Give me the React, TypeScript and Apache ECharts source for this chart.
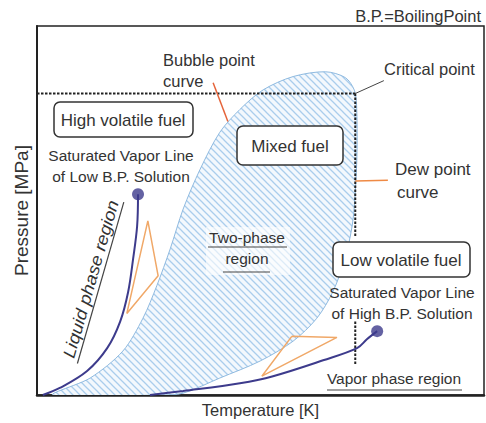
import React, { useEffect, useRef } from "react";
import * as echarts from "echarts";

// ---- Data (normalised axes: temperature 0–100, pressure 0–100) ----
const bubblePointCurve: [number, number][] = [
  [3.6, 0], [11.9, 4.6], [19.2, 11.9], [23.7, 20.8], [26.8, 29.6], [29.8, 39.6],
  [32.7, 50.4], [36.5, 61.2], [40.9, 71.2], [45.4, 77.4], [50.6, 82.7], [57.3, 86.3],
  [64.5, 87.6], [69.0, 86.0], [71.0, 82.6],
];
const dewPointCurve: [number, number][] = [
  [71.5, 78.5], [71.6, 66.0], [71.1, 53.1], [70.5, 45.8], [68.9, 36.9], [66.2, 28.0],
  [62.6, 20.8], [57.3, 14.6], [49.9, 9.2], [40.9, 4.6], [32.7, 0.5], [27.5, 0],
];
const lowBpVaporLine: [number, number][] = [
  [1.3, 0], [5.1, 1.9], [11.2, 6.5], [15.7, 12.7], [18.6, 19.9], [20.4, 28.0], [21.5, 36.9], [22.4, 45.8], [22.6, 54.4],
];
const highBpVaporLine: [number, number][] = [
  [25.3, 0], [32.7, 1.1], [45.4, 3.2], [52.8, 5.1], [64.0, 9.4], [71.6, 12.7], [73.8, 15.1], [76.1, 17.3],
];
const criticalPoint: [number, number] = [71.2, 81.7];
const criticalPressureLine: [number, number][] = [[0, 81.7], criticalPoint];
const criticalTempUpper: [number, number][] = [criticalPoint, [71.2, 42.9]];
const criticalTempLower: [number, number][] = [[71.2, 19.9], [71.2, 8.1]];
const leftTriangle: [number, number][] = [[24.8, 47.2], [27.1, 32.3], [20.1, 22.1], [24.8, 47.2]];
const rightTriangle: [number, number][] = [[57.0, 15.9], [67.1, 15.6], [50.3, 5.1], [57.0, 15.9]];
const bubblePointer: [number, number][] = [[39.4, 84.6], [42.7, 74.1]];
const dewPointer: [number, number][] = [[71.2, 58.0], [78.5, 58.2]];
const criticalPointer: [number, number][] = [criticalPoint, [77.6, 85.2]];

const FONT = '"Liberation Sans", Arial, Helvetica, sans-serif';
const TEXT = "#333";
const PURPLE = "#3d3b8c";
const ORANGE = "#f0a868";

function makeHatch(): string {
  const s = 7;
  const c = document.createElement("canvas");
  c.width = s;
  c.height = s;
  const ctx = c.getContext("2d");
  if (ctx) {
    ctx.fillStyle = "#f3f8fd";
    ctx.fillRect(0, 0, s, s);
    ctx.strokeStyle = "#aacdec";
    ctx.lineWidth = 1.3;
    ctx.beginPath();
    ctx.moveTo(-1, -1); ctx.lineTo(s + 1, s + 1);
    ctx.moveTo(-1, s - 1); ctx.lineTo(1, s + 1);
    ctx.moveTo(s - 1, -1); ctx.lineTo(s + 1, 1);
    ctx.stroke();
  }
  return c.toDataURL();
}

function txt(text: string, x: number, y: number, size: number, align = "center", extra: any = {}, el: any = {}) {
  return {
    type: "text", x, y, z: 100, silent: true, ...el,
    style: {
      text, fill: TEXT, fontSize: size, fontFamily: FONT,
      align, verticalAlign: "middle", textAlign: align, textVerticalAlign: "middle", ...extra,
    },
  };
}
function box(x: number, y: number, w: number, h: number) {
  return {
    type: "rect", z: 90, silent: true,
    shape: { x, y, width: w, height: h, r: 6 },
    style: { fill: "#fff", stroke: "#333", lineWidth: 1.5 },
  };
}
function uline(x1: number, y1: number, x2: number, y2: number) {
  return { type: "line", z: 100, silent: true, shape: { x1, y1, x2, y2 }, style: { stroke: "#444", lineWidth: 1.2 } };
}

function lineSeries(data: [number, number][], color: string, width: number, extra: any = {}) {
  return {
    type: "line", data, showSymbol: false, symbol: "none", silent: true,
    lineStyle: { color, width }, z: 5, ...extra,
  };
}

export default function App() {
  const ref = useRef<HTMLDivElement>(null);
  useEffect(() => {
    if (!ref.current) return;
    const chart = echarts.init(ref.current, undefined, { renderer: "svg" });
    const hatch = { image: makeHatch(), repeat: "repeat", imageWidth: 7, imageHeight: 7 };
    const envelope = [...bubblePointCurve, ...dewPointCurve];
    const dashed = { color: "#222", width: 2, type: [2.5, 1.5] };

    chart.setOption({
      animation: false,
      backgroundColor: "#fff",
      grid: { left: 37, top: 26, width: 447, height: 371, show: true, borderColor: "#222", borderWidth: 1.5, containLabel: false },
      xAxis: {
        type: "value", min: 0, max: 100,
        name: "Temperature [K]", nameLocation: "middle", nameGap: 6,
        nameTextStyle: { fontSize: 16.5, fontFamily: FONT, color: TEXT, verticalAlign: "top" },
        axisLine: { show: true, lineStyle: { color: "#222", width: 2.5 } },
        axisTick: { show: false }, axisLabel: { show: false }, splitLine: { show: false },
      },
      yAxis: {
        type: "value", min: 0, max: 100,
        name: "Pressure [MPa]", nameLocation: "middle", nameGap: 6,
        nameTextStyle: { fontSize: 19, fontFamily: FONT, color: TEXT },
        axisLine: { show: true, lineStyle: { color: "#222", width: 2 } },
        axisTick: { show: false }, axisLabel: { show: false }, splitLine: { show: false },
      },
      series: [
        {
          type: "custom", coordinateSystem: "cartesian2d", data: [[0, 0]], clip: true, z: 1, silent: true,
          renderItem: (_p: any, api: any) => ({
            type: "polygon",
            shape: { points: envelope.map((p) => api.coord(p)), smooth: 0.3 },
            style: { fill: hatch, stroke: "#8fbae0", lineWidth: 1 },
          }),
        },
        lineSeries(criticalPressureLine, "#222", 2, { lineStyle: dashed }),
        lineSeries(criticalTempUpper, "#222", 2, { lineStyle: dashed }),
        lineSeries(criticalTempLower, "#222", 2, { lineStyle: dashed }),
        lineSeries(lowBpVaporLine, PURPLE, 2, { smooth: 0.35 }),
        lineSeries(highBpVaporLine, PURPLE, 2, { smooth: 0.35 }),
        lineSeries(leftTriangle, ORANGE, 1.5),
        lineSeries(rightTriangle, ORANGE, 1.5),
        lineSeries(bubblePointer, "#e5643a", 1.5),
        lineSeries(dewPointer, "#ef8a45", 1.5),
        lineSeries(criticalPointer, "#444", 1),
        {
          type: "scatter", silent: true, z: 6, symbolSize: 12,
          itemStyle: { color: PURPLE },
          data: [lowBpVaporLine[lowBpVaporLine.length - 1], highBpVaporLine[highBpVaporLine.length - 1]],
        },
      ],
      graphic: {
        elements: [
          txt("B.P.=BoilingPoint", 481, 16, 16.5, "right"),
          txt("Bubble point", 163, 60, 16.5, "left"),
          txt("curve", 163, 81, 16.5, "left"),
          txt("Critical point", 384, 69, 16.5, "left"),
          box(54, 102, 139, 35),
          txt("High volatile fuel", 123, 120, 17),
          txt("Saturated Vapor Line", 121, 155, 15.5),
          txt("of Low B.P. Solution", 121, 176, 15.5),
          box(237, 126, 106, 39),
          txt("Mixed fuel", 290, 146, 17),
          txt("Dew point", 395, 169, 17, "left"),
          txt("curve", 397, 192, 17, "left"),
          { type: "rect", z: 80, silent: true, shape: { x: 206, y: 227, width: 84, height: 48 }, style: { fill: "rgba(255,255,255,0.6)" } },
          txt("Two-phase", 247, 237, 15.5),
          uline(208, 247, 287, 247),
          txt("region", 247, 258, 15.5),
          uline(223, 272, 270, 272),
          box(333, 242, 137, 35),
          txt("Low volatile fuel", 401, 260, 17),
          txt("Saturated Vapor Line", 402, 292, 15.5),
          txt("of High B.P. Solution", 402, 313, 15.5),
          txt("Vapor phase region", 394, 378, 15.5),
          uline(327, 390, 462, 390),
          txt("Liquid phase region", 91, 279, 17, "center", { fontStyle: "italic" }, { rotation: (74 * Math.PI) / 180, scaleX: 1.1 }),
          uline(77.4, 363.5, 123.8, 202.1),
        ],
      },
    });
    return () => chart.dispose();
  }, []);
  return <div ref={ref} style={{ position: "fixed", left: 0, top: 0, width: 486, height: 423 }} />;
}
